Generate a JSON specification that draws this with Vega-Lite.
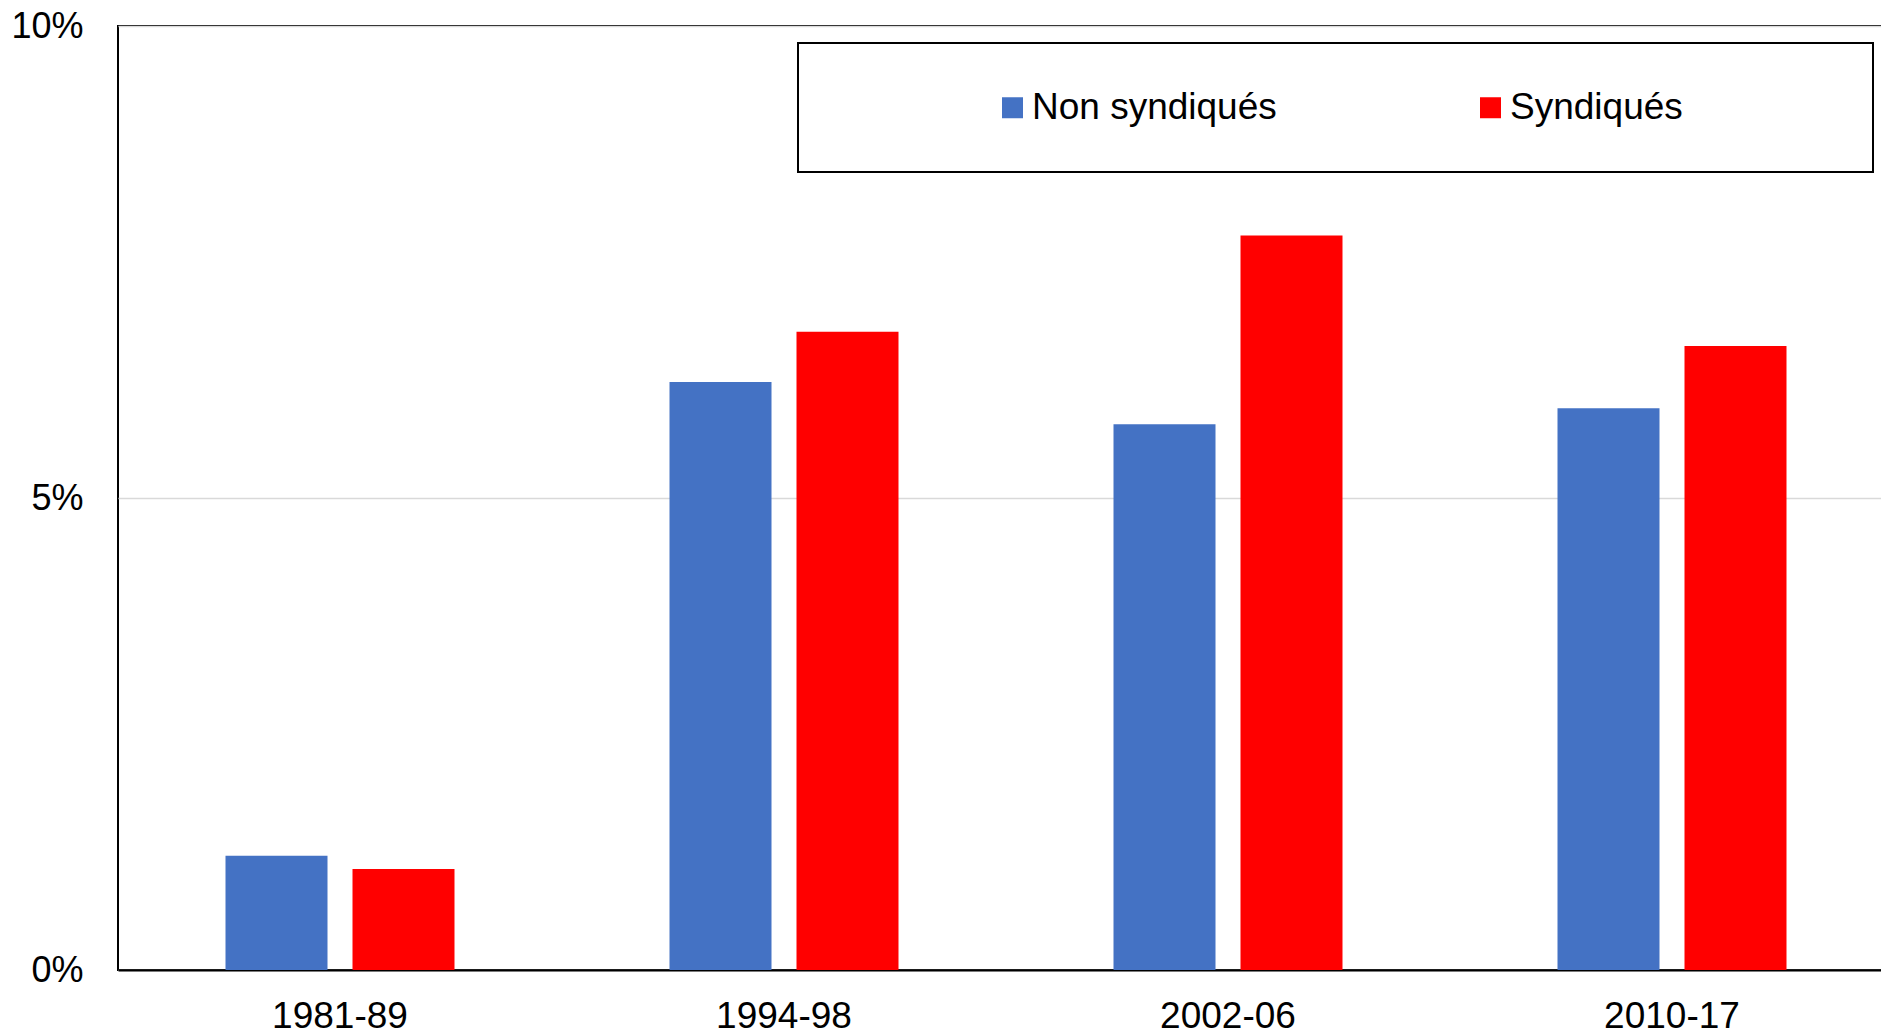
{
  "$schema": "https://vega.github.io/schema/vega-lite/v6.json",
  "width": 1776,
  "height": 944,
  "padding": {"left": 118, "top": 26, "right": 0, "bottom": 62},
  "autosize": {"type": "none"},
  "background": "white",
  "data": {
    "values": [
      {"period": "1981-89", "group": "Non syndiqués", "value": 0.0121},
      {"period": "1981-89", "group": "Syndiqués", "value": 0.0107},
      {"period": "1994-98", "group": "Non syndiqués", "value": 0.0623},
      {"period": "1994-98", "group": "Syndiqués", "value": 0.0676},
      {"period": "2002-06", "group": "Non syndiqués", "value": 0.0578},
      {"period": "2002-06", "group": "Syndiqués", "value": 0.0778},
      {"period": "2010-17", "group": "Non syndiqués", "value": 0.0595},
      {"period": "2010-17", "group": "Syndiqués", "value": 0.0661}
    ]
  },
  "mark": {"type": "bar"},
  "encoding": {
    "x": {
      "field": "period",
      "type": "nominal",
      "sort": null,
      "scale": {"paddingInner": 0, "paddingOuter": 0},
      "axis": {
        "title": null,
        "labelAngle": 0,
        "labelFont": "Liberation Sans",
        "labelFontSize": 37,
        "labelColor": "black",
        "labelPadding": 28,
        "ticks": false,
        "domainColor": "black",
        "domainWidth": 2
      }
    },
    "xOffset": {
      "field": "group",
      "type": "nominal",
      "sort": ["Non syndiqués", "Syndiqués"],
      "scale": {"paddingInner": 0.19685, "paddingOuter": 0.84646}
    },
    "y": {
      "field": "value",
      "type": "quantitative",
      "scale": {"domain": [0, 0.1], "nice": false},
      "axis": {
        "title": null,
        "values": [0, 0.05, 0.1],
        "format": ".0%",
        "labelFont": "Liberation Sans",
        "labelFontSize": 36,
        "labelColor": "black",
        "labelPadding": 35,
        "ticks": false,
        "domain": false,
        "gridColor": "#d9d9d9",
        "gridWidth": 1.5
      }
    },
    "color": {
      "field": "group",
      "type": "nominal",
      "sort": ["Non syndiqués", "Syndiqués"],
      "scale": {"domain": ["Non syndiqués", "Syndiqués"], "range": ["#4472C4", "#FF0000"]},
      "legend": {
        "title": " ",
        "titleOrient": "right",
        "titlePadding": 144,
        "orient": "none",
        "legendX": 680,
        "legendY": 17,
        "direction": "horizontal",
        "columns": 2,
        "columnPadding": 45,
        "padding": 46,
        "symbolOffset": 150,
        "symbolType": "square",
        "symbolSize": 441,
        "symbolStrokeWidth": 0,
        "labelOffset": 1,
        "labelFont": "Liberation Sans",
        "labelFontSize": 37,
        "labelColor": "black",
        "labelLimit": 600,
        "strokeColor": "black"
      }
    }
  },
  "config": {
    "view": {"stroke": "black", "strokeWidth": 2},
    "legend": {"strokeWidth": 2}
  }
}
